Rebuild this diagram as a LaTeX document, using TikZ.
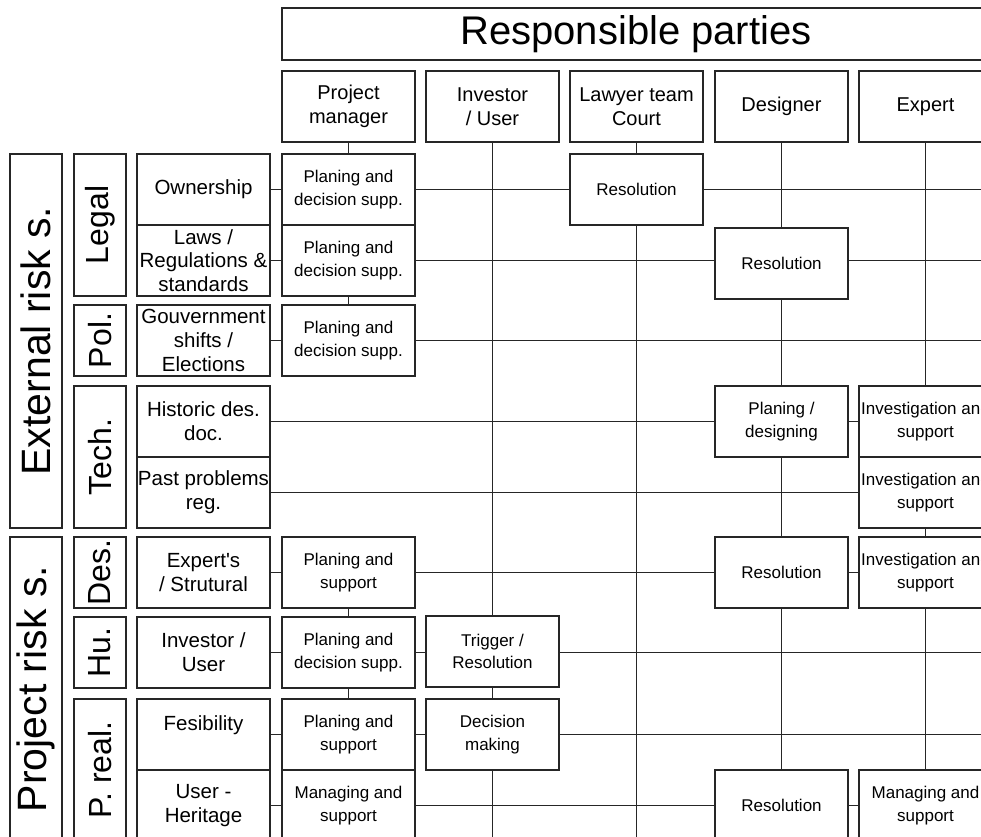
\documentclass[tikz,border=0pt]{standalone}
\usepackage{fontspec}
\setmainfont{Liberation Sans}
\begin{document}
\begin{tikzpicture}[x=1pt,y=-1pt,
  box/.style={draw=black!85,line width=1.3pt,fill=white,rectangle,inner sep=0pt,align=center,minimum width=133pt,minimum height=71pt},
  act/.style={box,font=\fontsize{17}{22.6}\selectfont},
  hdr/.style={box,font=\fontsize{20}{24.3}\selectfont},
  risk/.style={box,font=\fontsize{20.5}{23.7}\selectfont},
  cat/.style={box,rotate=90,minimum height=52pt,font=\fontsize{32}{36}\selectfont},
  grp/.style={box,rotate=90,minimum height=52pt,font=\fontsize{41}{46}\selectfont},
  ln/.style={draw=black!85,line width=1.3pt}]
\useasboundingbox (0,0) rectangle (981,836);
\clip (0,0) rectangle (981,836);
\coordinate (E) at (995,0);
\coordinate (B) at (0,848);
% title and headers
\node[box,font=\fontsize{40}{44}\selectfont,minimum width=708pt,minimum height=52pt] (title) at (636,34) {Responsible parties};
\node[hdr] (hPM) at (348.5,106.5) {Project\\manager};
\node[hdr] (hINV) at (492.5,106.5) {Investor\\/ User};
\node[hdr] (hLAW) at (636.5,106.5) {Lawyer team\\Court};
\node[hdr] (hDES) at (781.5,106.5) {Designer};
\node[hdr] (hEXP) at (925.5,106.5) {Expert};
% groups and categories
\node[grp,minimum width=374pt] (gExt) at (36,341) {External risk s.};
\node[grp,minimum width=304pt] (gPro) at (36,689) {Project risk s.};
\node[cat,minimum width=142pt] (cLeg) at (100,225) {Legal};
\node[cat,minimum width=71pt] (cPol) at (100,340.5) {Pol.};
\node[cat,minimum width=142pt] (cTec) at (100,457) {Tech.};
\node[cat,minimum width=71pt] (cDes) at (100,572.5) {Des.};
\node[cat,minimum width=71pt] (cHu) at (100,652.5) {Hu.};
\node[cat,minimum width=142pt] (cPr) at (100,770) {P. real.};
% risks
\node[risk] (k1) at (203.5,189.5) {Ownership};
\node[risk] (k2) at (203.5,260.5) {Laws /\\Regulations \&\\standards};
\node[risk] (k3) at (203.5,340.5) {Gouvernment\\shifts /\\Elections};
\node[risk] (k4) at (203.5,421.5) {Historic des.\\doc.};
\node[risk] (k5) at (203.5,492.5) {Past problems\\reg.};
\node[risk] (k6) at (203.5,572.5) {Expert\textquotesingle s\\/ Strutural};
\node[risk] (k7) at (203.5,652.5) {Investor /\\User};
\node[risk] (k8) at (203.5,734.5) {Fesibility\\\mbox{}};
\node[risk] (k9) at (203.5,805.5) {User -\\Heritage};
% actions
\node[act] (a1) at (348.5,189.5) {Planing and\\decision supp.};
\node[act] (a2) at (348.5,260.5) {Planing and\\decision supp.};
\node[act] (a3) at (348.5,340.5) {Planing and\\decision supp.};
\node[act] (a6) at (348.5,572.5) {Planing and\\support};
\node[act] (a7) at (348.5,652.5) {Planing and\\decision supp.};
\node[act] (a8) at (348.5,734.5) {Planing and\\support};
\node[act] (a9) at (348.5,805.5) {Managing and\\support};
\node[act] (i7) at (492.5,651.5) {Trigger /\\Resolution};
\node[act] (i8) at (492.5,734.5) {Decision\\making};
\node[act] (l1) at (636.5,189.5) {Resolution};
\node[act] (d2) at (781.5,263.5) {Resolution};
\node[act] (d4) at (781.5,421.5) {Planing /\\designing};
\node[act] (d6) at (781.5,572.5) {Resolution};
\node[act] (d9) at (781.5,805.5) {Resolution};
\node[act] (e4) at (925.5,421.5) {Investigation and\\support};
\node[act] (e5) at (925.5,492.5) {Investigation and\\support};
\node[act] (e6) at (925.5,572.5) {Investigation and\\support};
\node[act] (e9) at (925.5,805.5) {Managing and\\support};
% vertical connectors
\draw[ln] (hPM.south) -- (a1.north);
\draw[ln] (a2.south) -- (a3.north);
\draw[ln] (a6.south) -- (a7.north);
\draw[ln] (a7.south) -- (a8.north);
\draw[ln] (hINV.south) -- (i7.north);
\draw[ln] (i7.south) -- (i8.north);
\draw[ln] (i8.south) -- (i8.south |- B);
\draw[ln] (hLAW.south) -- (l1.north);
\draw[ln] (l1.south) -- (l1.south |- B);
\draw[ln] (hDES.south) -- (d2.north);
\draw[ln] (d2.south) -- (d4.north);
\draw[ln] (d4.south) -- (d6.north);
\draw[ln] (d6.south) -- (d9.north);
\draw[ln] (hEXP.south) -- (e4.north);
\draw[ln] (e5.south) -- (e6.north);
\draw[ln] (e6.south) -- (e9.north);
% horizontal connectors
\draw[ln] (k1.east) -- (a1.west);
\draw[ln] (a1.east) -- (l1.west);
\draw[ln] (l1.east) -- (l1.east -| E);
\draw[ln] (k2.east) -- (a2.west);
\draw[ln] (a2.east) -- (a2.east -| d2.west);
\draw[ln] (d2.east |- a2.east) -- (a2.east -| E);
\draw[ln] (k3.east) -- (a3.west);
\draw[ln] (a3.east) -- (a3.east -| E);
\draw[ln] (k4.east) -- (d4.west);
\draw[ln] (d4.east) -- (e4.west);
\draw[ln] (k5.east) -- (e5.west);
\draw[ln] (k6.east) -- (a6.west);
\draw[ln] (a6.east) -- (d6.west);
\draw[ln] (d6.east) -- (e6.west);
\draw[ln] (k7.east) -- (a7.west);
\draw[ln] (a7.east) -- (a7.east -| i7.west);
\draw[ln] (i7.east |- a7.east) -- (a7.east -| E);
\draw[ln] (k8.east) -- (a8.west);
\draw[ln] (a8.east) -- (i8.west);
\draw[ln] (i8.east) -- (i8.east -| E);
\draw[ln] (k9.east) -- (a9.west);
\draw[ln] (a9.east) -- (d9.west);
\draw[ln] (d9.east) -- (e9.west);
\end{tikzpicture}
\end{document}
